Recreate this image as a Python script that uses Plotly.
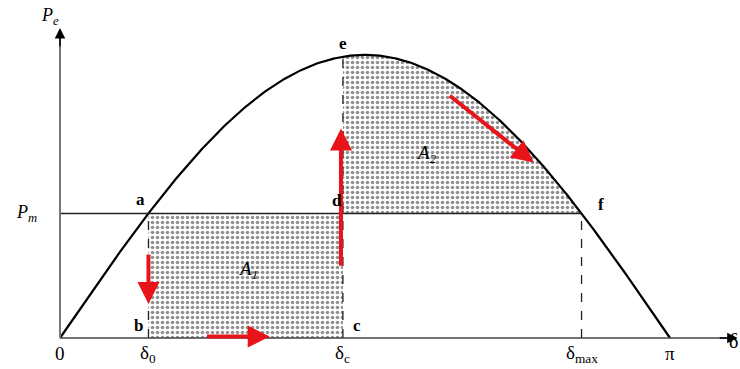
import numpy as np
import plotly.graph_objects as go

# power-angle curve Pe = Pmax * sin(delta)
p_max = 1.0
p_m = 0.44
delta_c = 1.457
delta_0 = float(np.arcsin(p_m / p_max))
delta_max = float(np.pi - delta_0)

delta = np.linspace(0, np.pi, 400)
pe = p_max * np.sin(delta)

tick_labels = ["0", "δ<sub>0</sub>", "δ<sub>c</sub>", "δ<sub>max</sub>", "π"]
tick_pos = [0, delta_0, delta_c, delta_max, np.pi]
point_labels = ["a", "b", "c", "d", "e", "f"]

font = "Liberation Serif"
fig = go.Figure()

pat = dict(shape=".", fgcolor="#222", bgcolor="white", size=5, solidity=0.4)

# A1 region
fig.add_trace(go.Scatter(x=[delta_0, delta_c, delta_c, delta_0, delta_0],
                         y=[0, 0, p_m, p_m, 0], fill="toself", fillcolor="white",
                         fillpattern=pat, line=dict(width=0), mode="lines",
                         hoverinfo="skip"))
# A2 region
d2 = np.linspace(delta_c, delta_max, 120)
fig.add_trace(go.Scatter(x=np.concatenate([[delta_c], d2, [delta_c]]),
                         y=np.concatenate([[p_m], np.sin(d2) * p_max, [p_m]]),
                         fill="toself", fillcolor="white", fillpattern=pat,
                         line=dict(width=0), mode="lines", hoverinfo="skip"))

# curve
fig.add_trace(go.Scatter(x=delta, y=pe, mode="lines",
                         line=dict(color="black", width=2.2), hoverinfo="skip"))
# Pm line
fig.add_trace(go.Scatter(x=[0, delta_max], y=[p_m, p_m], mode="lines",
                         line=dict(color="#222", width=1.6), hoverinfo="skip"))
# dashed verticals
for xv, yv in [(delta_0, p_m), (delta_c, float(np.sin(delta_c))), (delta_max, p_m)]:
    fig.add_trace(go.Scatter(x=[xv, xv], y=[0, yv], mode="lines",
                             line=dict(color="#222", width=1.3, dash="dash"),
                             hoverinfo="skip"))

# axes with arrows
x_end = 3.44
y_end = 1.075
fig.add_shape(type="line", x0=0, y0=0, x1=x_end, y1=0, line=dict(color="#444", width=1.6))
fig.add_shape(type="line", x0=0, y0=0, x1=0, y1=y_end, line=dict(color="#777", width=2))
fig.add_annotation(x=x_end + 0.05, y=0, ax=x_end - 0.05, ay=0, axref="x", ayref="y",
                   text="", showarrow=True, arrowhead=2, arrowsize=1.4, arrowwidth=1.5,
                   arrowcolor="black")
fig.add_annotation(x=0, y=y_end + 0.02, ax=0, ay=y_end - 0.05, axref="x", ayref="y",
                   text="", showarrow=True, arrowhead=2, arrowsize=1.4, arrowwidth=1.5,
                   arrowcolor="black")

# red arrows
red_arrows = [
    ((delta_0, 0.30), (delta_0, 0.12)),
    ((0.75, 0.005), (1.08, 0.005)),
    ((delta_c - 0.01, 0.25), (delta_c - 0.01, 0.74)),
    ((2.0, 0.86), (2.44, 0.62)),
]
for (x0, y0), (x1, y1) in red_arrows:
    fig.add_annotation(x=x1, y=y1, ax=x0, ay=y0, axref="x", ayref="y", text="",
                       showarrow=True, arrowhead=2, arrowsize=1.1, arrowwidth=4,
                       arrowcolor="#e8141a")

def txt(x, y, s, size=17, bold=False, italic=False):
    if bold:
        s = "<b>" + s + "</b>"
    if italic:
        s = "<i>" + s + "</i>"
    fig.add_annotation(x=x, y=y, text=s, showarrow=False,
                       font=dict(family=font, size=size, color="black"))

pt_xy = [(delta_0 - 0.04, p_m + 0.05), (delta_0 - 0.05, 0.045),
         (delta_c + 0.07, 0.045), (delta_c - 0.03, p_m + 0.045),
         (delta_c, 1.04), (delta_max + 0.1, p_m + 0.03)]
for (px, py), lab in zip(pt_xy, point_labels):
    txt(px, py, lab, bold=True)

for xp, lab in zip(tick_pos, tick_labels):
    txt(xp, -0.055, lab, size=19)

txt(3.47, -0.01, "δ", size=20)
txt(-0.05, 1.135, "P<sub>e</sub>", size=18, italic=True)
txt(-0.17, p_m, "P<sub>m</sub>", size=18, italic=True)
txt(0.97, 0.24, "A<sub>1</sub>", size=19, italic=True)
txt(1.89, 0.65, "A<sub>2</sub>", size=19, italic=True)

fig.update_layout(
    width=740, height=369, margin=dict(l=0, r=0, t=0, b=0),
    plot_bgcolor="white", paper_bgcolor="white", showlegend=False,
    xaxis=dict(range=[-0.309, 3.502], visible=False, fixedrange=True),
    yaxis=dict(range=[-0.1095, 1.194], visible=False, fixedrange=True),
)

fig.write_html("out.html", config={"displayModeBar": False},
               post_script="document.body.style.margin='0';")
